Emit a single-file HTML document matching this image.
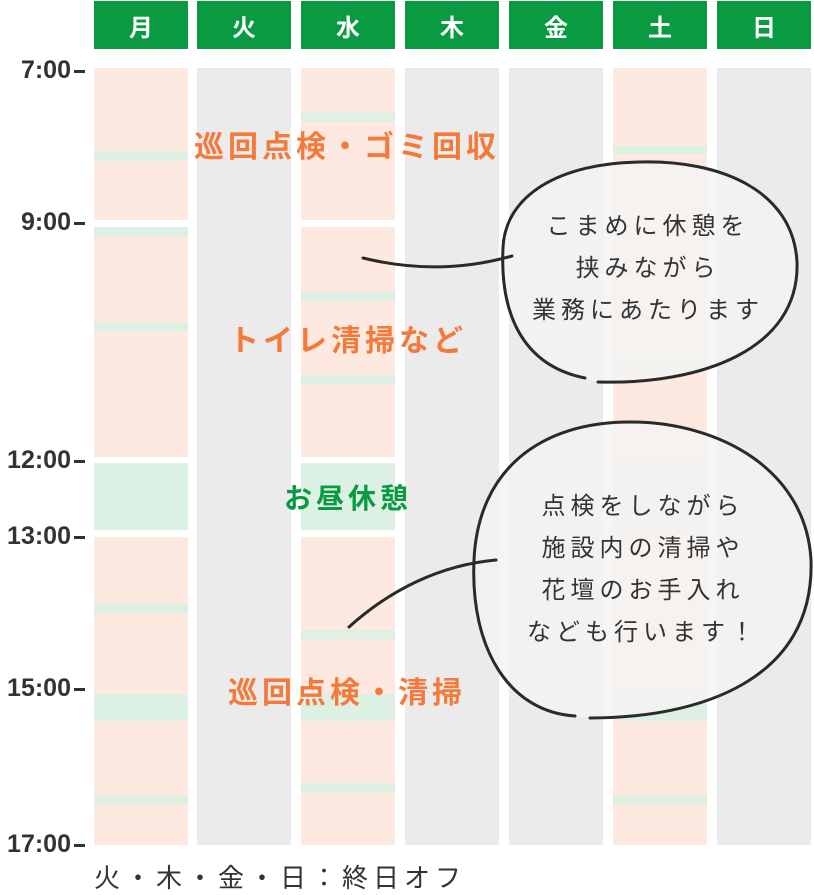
<!DOCTYPE html>
<html><head><meta charset="utf-8"><style>
body{margin:0;width:814px;height:892px;background:#fff;position:relative;overflow:hidden;font-family:"Liberation Sans","Noto Sans CJK JP",sans-serif}
.h{position:absolute;top:1px;height:48px;background:#0a9a41;color:#fff;font-weight:bold;font-size:24px;display:flex;align-items:center;justify-content:center}
.r{position:absolute}
.t{position:absolute;left:0;font-weight:bold;font-size:25px;color:#333;letter-spacing:0px}
.lab{position:absolute;font-weight:bold;font-size:30px;letter-spacing:4px;color:#f47a3c;white-space:nowrap;transform:translateX(-50%)}
.bt{position:absolute;font-size:24px;color:#333;text-align:center;line-height:42px;letter-spacing:5px;transform:translateX(-50%);white-space:nowrap}
</style></head><body>
<div id="c"></div>
<script>
var xs=[94,197,301,405,509,613,717],d="月火水木金土日",h="";
xs.forEach(function(x,i){h+='<div class="h" style="left:'+x+'px;width:94px">'+d[i]+'</div>';});
var P="#fde9df",G="#dcf0e4",Y="#ebebeb";
function r(x,y1,y2,c){h+='<div class="r" style="left:'+x+'px;width:94px;top:'+y1+'px;height:'+(y2-y1)+'px;background:'+c+'"></div>';}
[1,3,4,6].forEach(function(i){r(xs[i],68,845,Y);});
r(94,68,220,P);r(94,151,161,G);r(94,227,457,P);r(94,227,237,G);r(94,323,331,G);r(94,463,530,G);r(94,537,845,P);r(94,604,613,G);r(94,694,721,G);r(94,796,804,G);
r(301,68,220,P);r(301,113,122,G);r(301,227,457,P);r(301,292,301,G);r(301,375,384,G);r(301,463,530,G);r(301,537,845,P);r(301,630,639,G);r(301,694,721,G);r(301,783,792,G);
r(613,68,845,P);r(613,146,154,G);r(613,362,371,G);r(613,463,530,G);r(613,694,721,G);r(613,796,804,G);
[[71,"7:00"],[223,"9:00"],[461,"12:00"],[537,"13:00"],[689,"15:00"],[845,"17:00"]].forEach(function(a){
h+='<div class="t" style="top:'+(a[0]-15)+'px;text-align:right;width:71px">'+a[1]+'</div><div class="r" style="left:74px;top:'+(a[0]-1)+'px;width:11px;height:3px;background:#333"></div>';});
document.getElementById('c').innerHTML=h;
</script>
<div class="lab" style="left:347px;top:122px">巡回点検・ゴミ回収</div>
<div class="lab" style="left:348px;top:316px">トイレ清掃など</div>
<div class="lab" style="left:348px;top:477px;color:#0a9a41;font-size:28px">お昼休憩</div>
<div class="lab" style="left:347px;top:668px">巡回点検・清掃</div>
<svg width="814" height="892" style="position:absolute;left:0;top:0" fill="none" stroke="#2a2a2a" stroke-width="3" stroke-linecap="round">
<path d="M598,382 C700,385 800,350 797,262 C793,190 720,160 640,162 C560,163 505,195 503,248 C500,310 520,365 585,378" fill="rgba(243,243,243,0.85)"/>
<path d="M363,258 C420,272 470,268 512,256"/>
<path d="M590,718 C700,718 815,680 811,560 C806,470 720,422 630,422 C540,422 478,470 474,560 C470,650 510,712 575,716" fill="rgba(243,243,243,0.85)"/>
<path d="M349,627 C390,590 440,565 496,560"/>
</svg>
<div class="bt" style="left:648px;top:206px">こまめに休憩を<br>挟みながら<br>業務にあたります</div>
<div class="bt" style="left:643px;top:486px">点検をしながら<br>施設内の清掃や<br>花壇のお手入れ<br>なども行います！</div>
<div style="position:absolute;left:94px;top:858px;font-size:26px;letter-spacing:5px;color:#333;white-space:nowrap">火・木・金・日：終日オフ</div>
</body></html>
